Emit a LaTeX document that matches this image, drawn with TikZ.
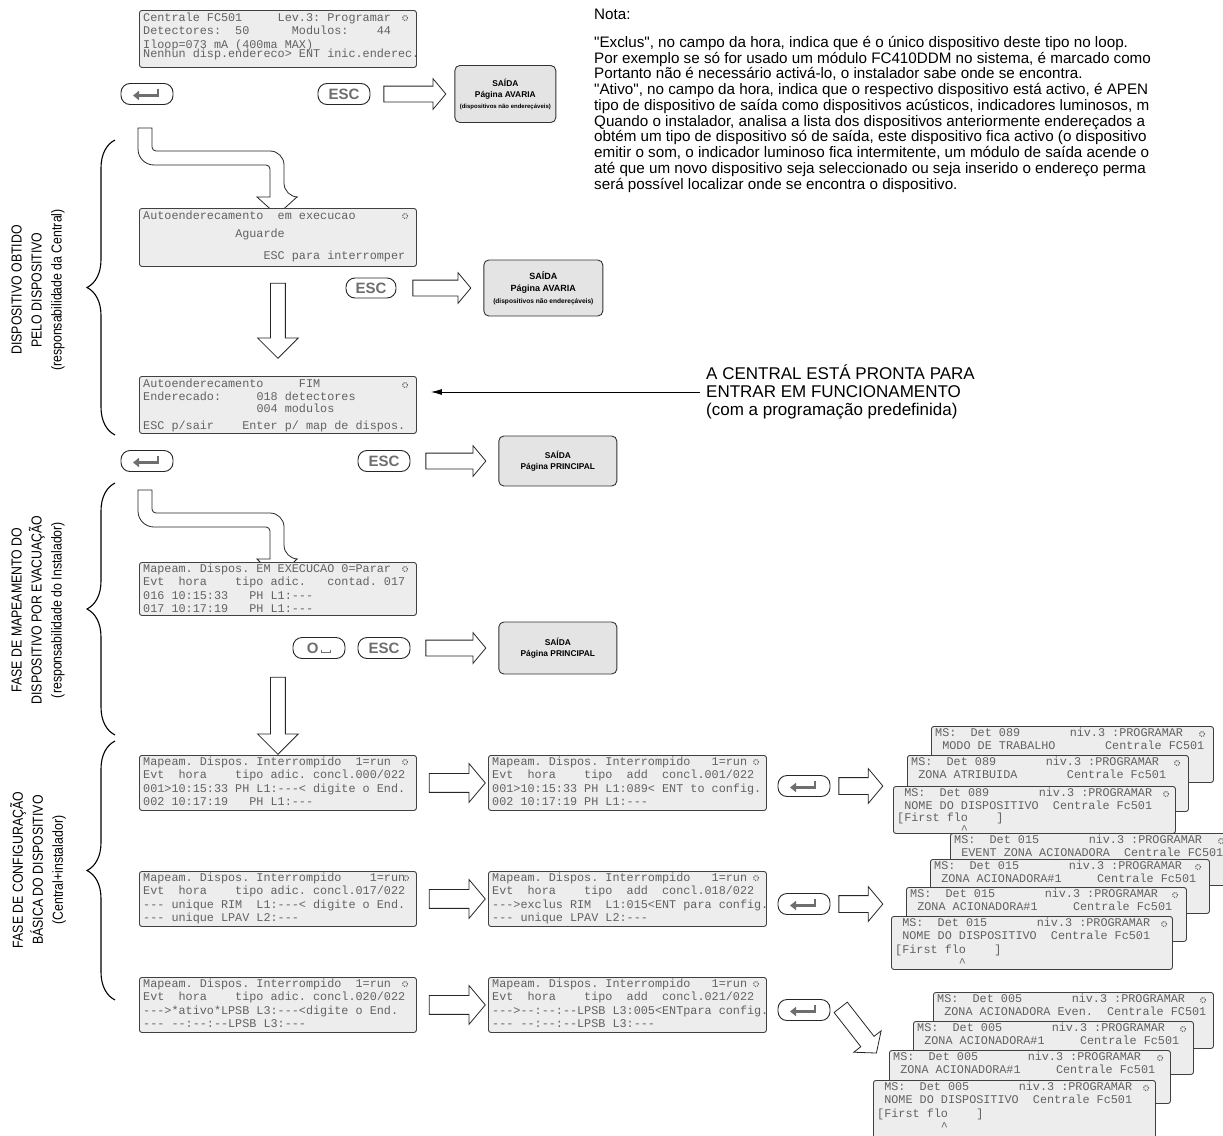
\documentclass[tikz,border=0pt]{standalone}
\usepackage{fontspec}
\setmainfont{Liberation Sans}
\setmonofont{Liberation Mono}
\newfontfamily\narrowsans{Liberation Sans}[FakeStretch=0.85]
\newfontfamily\notefont{Liberation Sans}[Ligatures=TeXOff]
\usetikzlibrary{shapes.arrows,decorations.pathreplacing,arrows.meta}

\definecolor{lcdfill}{HTML}{EDEDED}
\definecolor{lcdink}{HTML}{626262}
\definecolor{boxfill}{HTML}{E4E4E4}
\definecolor{keyink}{HTML}{6E6E6E}

\tikzset{
  lcd/.style={draw=black!75, fill=lcdfill, rounded corners=2.5pt, line width=0.9pt, anchor=north west, inner sep=0pt},
  lcdtext/.style={anchor=north west, inner sep=0pt, align=left, text=lcdink, font=\ttfamily\fontsize{11.8}{13.2}\selectfont},
  lcdicon/.style={circle, draw=lcdink, densely dotted, line width=1.1pt, minimum size=5pt, inner sep=0pt},
  key/.style={draw=black!85, fill=white, rounded corners=9pt, line width=0.9pt, minimum width=52, minimum height=21, inner sep=0pt, text=keyink, font=\bfseries\fontsize{15}{15}\selectfont},
  entglyph/.style={draw=keyink, line width=2.6pt, -{Triangle[length=6pt,width=9pt]}},
  harrow/.style={single arrow, draw=black!85, fill=white, line width=0.8pt, inner sep=7.5pt, minimum width=30, single arrow head extend=7.5, anchor=tail, single arrow tip angle=100},
  rowarrow/.style={harrow, inner sep=9pt, minimum width=38, single arrow head extend=10},
  downarrow/.style={harrow, shape border rotate=270, inner sep=7pt, minimum width=40, single arrow head extend=13, single arrow tip angle=90},
  saida/.style={draw=black!80, fill=boxfill, rounded corners=5pt, line width=0.9pt, align=center, anchor=west, font=\bfseries\fontsize{8.4}{11}\selectfont},
  bent/.style={draw=black!85, fill=white, line width=0.8pt},
  brace/.style={decorate, decoration={brace, amplitude=28pt}, line width=1.1pt},
  phase/.style={rotate=90, align=center, font=\narrowsans\fontsize{14.5}{20}\selectfont},
  note/.style={anchor=north west, align=left, inner sep=0pt, font=\notefont\fontsize{15.2}{15.75}\selectfont},
}

\begin{document}
\begin{tikzpicture}[x=1pt, y=-1pt]
\useasboundingbox (0,0) rectangle (1223,1135);
\clip (0,0) rectangle (1223,1135);

% Fases (chavetas)
\draw[brace] (115,435) -- (115,140);
\draw[brace] (115,735) -- (115,483);
\draw[brace] (115,1000) -- (115,741);
\node[phase] (phA) at (38,290) {DISPOSITIVO OBTIDO\\PELO DISPOSITIVO\\(responsabilidade da Central)};
\node[phase] (phB) at (38,610) {FASE DE MAPEAMENTO DO\\DISPOSITIVO POR EVACUAÇÃO\\(responsabilidade do Instalador)};
\node[phase] (phC) at (38,870) {FASE DE CONFIGURAÇÃO\\BÁSICA DO DISPOSITIVO\\(Central+instalador)};

% Nota
\node[note] (nota) at (594,9) {Nota:\\[12pt]
"Exclus", no campo da hora, indica que é o único dispositivo deste tipo no loop.\\
Por exemplo se só for usado um módulo FC410DDM no sistema, é marcado como\\
Portanto não é necessário activá-lo, o instalador sabe onde se encontra.\\
"Ativo", no campo da hora, indica que o respectivo dispositivo está activo, é APEN\\
tipo de dispositivo de saída como dispositivos acústicos, indicadores luminosos, m\\
Quando o instalador, analisa a lista dos dispositivos anteriormente endereçados a\\
obtém um tipo de dispositivo só de saída, este dispositivo fica activo (o dispositivo\\
emitir o som, o indicador luminoso fica intermitente, um módulo de saída acende o\\
até que um novo dispositivo seja seleccionado ou seja inserido o endereço perma\\
será possível localizar onde se encontra o dispositivo.};

% Ecra inicial
\node[lcd, minimum width=277, minimum height=57] (lcdA) at (139,10) {};
\node[lcdtext] (txtA) at (143,13) {Centrale~FC501~~~~~Lev.3:~Programar\\
Detectores:~~50~~~~~~Modulos:~~~~44\\
Iloop=073~mA~(400ma~MAX)\\[-3.5pt]
Nenhun~disp.endereco>~ENT~inic.enderec.};
\node[lcdicon] (icA) at (405,18) {};
\node[key] (entA) at (147,94) {};
\draw[entglyph] ([shift={(11,-5)}]entA.center) -- ([shift={(11,1.5)}]entA.center) -- ([shift={(-14,1.5)}]entA.center);
\node[key] (escA) at (344,94) {ESC};
\node[harrow, minimum height=62] (arA) at ([xshift=13pt]escA.east) {};
\node[saida, minimum width=101, minimum height=57] (outA) at ([xshift=8pt]arA.tip) {SAÍDA\\Página AVARIA\\{\fontsize{6}{8}\selectfont(dispositivos não endereçáveis)}};

% Seta curva 1
\coordinate (bendA) at (145,128);
\begin{scope}[shift={(bendA)}]
\draw[bent] (-7,0) -- (7,0) [rounded corners=4] -- (7,23) [rounded corners=14] -- (139,23) -- (139,69) [sharp corners] -- (152,69) -- (132,87) -- (112,69) -- (125,69) [rounded corners=4] -- (125,37) [rounded corners=16] -- (-7,37) [sharp corners] -- cycle;
\end{scope}

% Autoenderecamento
\node[lcd, minimum width=277, minimum height=58] (lcdB) at (139,208) {};
\node[lcdtext] (txtB) at (143,211) {Autoenderecamento~~em~execucao\\[4.5pt]
~~~~~~~~~~~~~Aguarde\\[9pt]
~~~~~~~~~~~~~~~~~ESC~para~interromper};
\node[lcdicon] (icB) at (405,216) {};
\node[key, minimum width=50, minimum height=20] (escB) at (371,288) {ESC};
\node[harrow, minimum height=58] (arB) at ([xshift=16pt]escB.east) {};
\node[saida, minimum width=119, minimum height=56, font=\bfseries\fontsize{9}{12}\selectfont] (outB) at ([xshift=12pt]arB.tip) {SAÍDA\\Página AVARIA\\{\fontsize{6.6}{8}\selectfont(dispositivos não endereçáveis)}};
\node[downarrow, minimum height=75] (arDownA) at ([yshift=-16pt]lcdB.south) {};

% Fim do autoenderecamento
\node[lcd, minimum width=277, minimum height=57] (lcdC) at (139,376) {};
\node[lcdtext] (txtC) at (143,379) {Autoenderecamento~~~~~FIM\\
Enderecado:~~~~~018~detectores\\[-2pt]
~~~~~~~~~~~~~~~~004~modulos\\[4pt]
ESC~p/sair~~~~Enter~p/~map~de~dispos.};
\node[lcdicon] (icC) at (405,385) {};
\node[anchor=west, align=left, inner sep=0pt, font=\fontsize{17}{18}\selectfont] (ready) at (706,392) {A CENTRAL ESTÁ PRONTA PARA\\ENTRAR EM FUNCIONAMENTO\\(com a programação predefinida)};
\draw[-{Latex[length=11pt,width=6pt]}, line width=0.9pt, shorten <=6pt, shorten >=14pt] (ready.west) -- (lcdC.east |- ready.west);
\node[key] (entB) at (147,461) {};
\draw[entglyph] ([shift={(11,-5)}]entB.center) -- ([shift={(11,1.5)}]entB.center) -- ([shift={(-14,1.5)}]entB.center);
\node[key] (escC) at (384,461) {ESC};
\node[harrow, minimum height=60] (arC) at ([xshift=15pt]escC.east) {};
\node[saida, minimum width=118, minimum height=50] (outC) at ([xshift=12pt]arC.tip) {SAÍDA\\Página PRINCIPAL};

% Seta curva 2
\coordinate (bendB) at (145,490);
\begin{scope}[shift={(bendB)}]
\draw[bent] (-7,0) -- (7,0) [rounded corners=4] -- (7,23) [rounded corners=14] -- (139,23) -- (139,69) [sharp corners] -- (152,69) -- (132,89) -- (112,69) -- (125,69) [rounded corners=4] -- (125,37) [rounded corners=16] -- (-7,37) [sharp corners] -- cycle;
\end{scope}

% Mapeamento em execucao
\node[lcd, minimum width=277, minimum height=53] (lcdD) at (139,562) {};
\node[lcdtext] (txtD) at (143,564) {Mapeam.~Dispos.~EM~EXECUCAO~0=Parar\\
Evt~~hora~~~~tipo~adic.~~~contad.~017\\
016~10:15:33~~~PH~L1:---\\
017~10:17:19~~~PH~L1:---};
\node[lcdicon] (icD) at (405,569) {};
\node[key] (keyO) at (319,648) {O\hspace{3pt}\rule{0.9pt}{3pt}\rule{8pt}{0.9pt}\rule{0.9pt}{3pt}};
\node[key] (escD) at (384,648) {ESC};
\node[harrow, minimum height=60] (arD) at ([xshift=15pt]escD.east) {};
\node[saida, minimum width=118, minimum height=52] (outD) at ([xshift=12pt]arD.tip) {SAÍDA\\Página PRINCIPAL};
\node[downarrow, minimum height=77] (arDownB) at ([yshift=-61pt]lcdD.south) {};

% Configuracao - linha 1
\node[lcd, minimum width=277, minimum height=55] (lcdE) at (139,755) {};
\node[lcdtext] (txtE) at (143,757) {Mapeam.~Dispos.~Interrompido~~1=run\\
Evt~~hora~~~~tipo~adic.~concl.000/022\\
001>10:15:33~PH~L1:---<~digite~o~End.\\
002~10:17:19~~~PH~L1:---};
\node[lcdicon] (icE) at (405,762) {};
\node[rowarrow, minimum height=56] (arE) at ([xshift=12pt]lcdE.east) {};
\node[lcd, minimum width=278, minimum height=55] (lcdF) at (488,755) {};
\node[lcdtext] (txtF) at (492,757) {Mapeam.~Dispos.~Interrompido~~~1=run\\
Evt~~hora~~~~tipo~~add~~concl.001/022\\
001>10:15:33~PH~L1:089<~ENT~to~config.\\
002~10:17:19~PH~L1:---};
\node[lcdicon] (icF) at (756,762) {};
\node[key] (entC) at (804,786) {};
\draw[entglyph] ([shift={(11,-5)}]entC.center) -- ([shift={(11,1.5)}]entC.center) -- ([shift={(-14,1.5)}]entC.center);
\node[harrow, inner sep=8pt, minimum width=34, single arrow head extend=9, minimum height=44] (arF) at ([xshift=8pt]entC.east) {};
% pilha 1
\node[lcd, minimum width=282, minimum height=56] (stA1) at (931,726) {};
\node[lcdtext] (tsA1) at (935,728) {MS:~~Det~089~~~~~~~niv.3~:PROGRAMAR\\~MODO~DE~TRABALHO~~~~~~~Centrale~FC501};
\node[lcdicon] (isA1) at (1202,734) {};
\node[lcd, minimum width=281, minimum height=56] (stA2) at (907,755) {};
\node[lcdtext] (tsA2) at (911,757) {MS:~~Det~089~~~~~~~niv.3~:PROGRAMAR\\~ZONA~ATRIBUIDA~~~~~~~Centrale~Fc501};
\node[lcdicon] (isA2) at (1177,763) {};
\node[lcd, minimum width=282, minimum height=47] (stA3) at (893,786) {};
\node[lcdtext, font=\ttfamily\fontsize{11.8}{12.4}\selectfont] (tsA3) at (897,788) {~MS:~~Det~089~~~~~~~niv.3~:PROGRAMAR\\~NOME~DO~DISPOSITIVO~~Centrale~Fc501\\{}[First~flo~~~~]\\~~~~~~~~~\textasciicircum};
\node[lcdicon] (isA3) at (1166,794) {};

% Configuracao - linha 2
\node[lcd, minimum width=277, minimum height=55] (lcdG) at (139,871) {};
\node[lcdtext] (txtG) at (143,873) {Mapeam.~Dispos.~Interrompido~~~~1=run\\
Evt~~hora~~~~tipo~adic.~concl.017/022\\
---~unique~RIM~~L1:---<~digite~o~End.\\
---~unique~LPAV~L2:---};
\node[lcdicon] (icG) at (406,878) {};
\node[rowarrow, minimum height=56] (arG) at ([xshift=12pt]lcdG.east) {};
\node[lcd, minimum width=278, minimum height=55] (lcdH) at (488,871) {};
\node[lcdtext] (txtH) at (492,873) {Mapeam.~Dispos.~Interrompido~~~1=run\\
Evt~~hora~~~~tipo~~add~~concl.018/022\\
--->exclus~RIM~~L1:015<ENT~para~config.\\
---~unique~LPAV~L2:---};
\node[lcdicon] (icH) at (756,878) {};
\node[key] (entD) at (804,904) {};
\draw[entglyph] ([shift={(11,-5)}]entD.center) -- ([shift={(11,1.5)}]entD.center) -- ([shift={(-14,1.5)}]entD.center);
\node[harrow, inner sep=8pt, minimum width=34, single arrow head extend=9, minimum height=44] (arH) at ([xshift=8pt]entD.east) {};
% pilha 2
\node[lcd, minimum width=282, minimum height=52] (stB1) at (950,833) {};
\node[lcdtext] (tsB1) at (954,835) {MS:~~Det~015~~~~~~~niv.3~:PROGRAMAR\\~EVENT~ZONA~ACIONADORA~~Centrale~FC501};
\node[lcdicon] (isB1) at (1221,841) {};
\node[lcd, minimum width=279, minimum height=54] (stB2) at (930,859) {};
\node[lcdtext] (tsB2) at (934,861) {MS:~~Det~015~~~~~~~niv.3~:PROGRAMAR\\~ZONA~ACIONADORA\#1~~~~~Centrale~Fc501};
\node[lcdicon] (isB2) at (1198,867) {};
\node[lcd, minimum width=280, minimum height=54] (stB3) at (906,887) {};
\node[lcdtext] (tsB3) at (910,889) {MS:~~Det~015~~~~~~~niv.3~:PROGRAMAR\\~ZONA~ACIONADORA\#1~~~~~Centrale~Fc501};
\node[lcdicon] (isB3) at (1175,895) {};
\node[lcd, minimum width=281, minimum height=53] (stB4) at (891,916) {};
\node[lcdtext] (tsB4) at (895,918) {~MS:~~Det~015~~~~~~~niv.3~:PROGRAMAR\\~NOME~DO~DISPOSITIVO~~Centrale~Fc501\\{}[First~flo~~~~]\\~~~~~~~~~\textasciicircum};
\node[lcdicon] (isB4) at (1164,924) {};

% Configuracao - linha 3
\node[lcd, minimum width=277, minimum height=55] (lcdI) at (139,977) {};
\node[lcdtext] (txtI) at (143,979) {Mapeam.~Dispos.~Interrompido~~1=run\\
Evt~~hora~~~~tipo~adic.~concl.020/022\\
--->*ativo*LPSB~L3:---<digite~o~End.\\
---~--:--:--LPSB~L3:---};
\node[lcdicon] (icI) at (405,984) {};
\node[rowarrow, minimum height=56] (arI) at ([xshift=12pt]lcdI.east) {};
\node[lcd, minimum width=278, minimum height=55] (lcdJ) at (488,977) {};
\node[lcdtext] (txtJ) at (492,979) {Mapeam.~Dispos.~Interrompido~~~1=run\\
Evt~~hora~~~~tipo~~add~~concl.021/022\\
--->--:--:--LPSB~L3:005<ENTpara~config.\\
---~--:--:--LPSB~L3:---};
\node[lcdicon] (icJ) at (756,984) {};
\node[key] (entE) at (804,1010) {};
\draw[entglyph] ([shift={(11,-5)}]entE.center) -- ([shift={(11,1.5)}]entE.center) -- ([shift={(-14,1.5)}]entE.center);
\node[harrow, rotate=-52, inner sep=8pt, minimum width=34, single arrow head extend=9, minimum height=58] (arJ) at ([shift={(10,-3)}]entE.east) {};
% pilha 3
\node[lcd, minimum width=280, minimum height=56] (stC1) at (933,992) {};
\node[lcdtext] (tsC1) at (937,994) {MS:~~Det~005~~~~~~~niv.3~:PROGRAMAR\\~ZONA~ACIONADORA~Even.~~Centrale~FC501};
\node[lcdicon] (isC1) at (1203,1000) {};
\node[lcd, minimum width=280, minimum height=53] (stC2) at (913,1021) {};
\node[lcdtext] (tsC2) at (917,1023) {MS:~~Det~005~~~~~~~niv.3~:PROGRAMAR\\~ZONA~ACIONADORA\#1~~~~~Centrale~Fc501};
\node[lcdicon] (isC2) at (1183,1029) {};
\node[lcd, minimum width=281, minimum height=53] (stC3) at (889,1050) {};
\node[lcdtext] (tsC3) at (893,1052) {MS:~~Det~005~~~~~~~niv.3~:PROGRAMAR\\~ZONA~ACIONADORA\#1~~~~~Centrale~Fc501};
\node[lcdicon] (isC3) at (1160,1058) {};
\node[lcd, minimum width=282, minimum height=60] (stC4) at (873,1080) {};
\node[lcdtext] (tsC4) at (877,1082) {~MS:~~Det~005~~~~~~~niv.3~:PROGRAMAR\\~NOME~DO~DISPOSITIVO~~Centrale~Fc501\\{}[First~flo~~~~]\\~~~~~~~~~\textasciicircum};
\node[lcdicon] (isC4) at (1146,1088) {};
\end{tikzpicture}
\end{document}
